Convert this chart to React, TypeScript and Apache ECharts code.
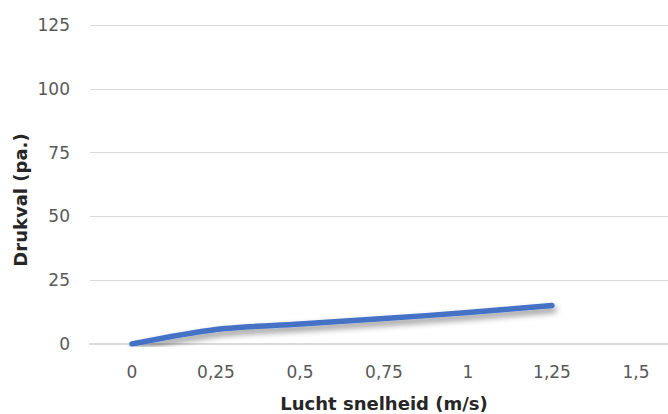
import React, { useEffect, useRef } from "react";
import * as echarts from "echarts";

const categories = ["0", "0,25", "0,5", "0,75", "1", "1,25", "1,5"];
const drukval = [0, 5.7, 7.8, 10, 12.3, 15.1, null];
const yTicks = { min: 0, max: 125, interval: 25 };
const xTitle = "Lucht snelheid (m/s)";
const yTitle = "Drukval (pa.)";

const FONT = "'DejaVu Sans', sans-serif";

export default function App() {
  const ref = useRef<HTMLDivElement>(null);
  useEffect(() => {
    if (!ref.current) return;
    const chart = echarts.init(ref.current, undefined, { renderer: "svg" });
    chart.setOption({
      animation: false,
      backgroundColor: "#ffffff",
      grid: {
        left: 90,
        top: 25,
        height: 319,
        width: 588,
        containLabel: false,
        outerBoundsMode: "none",
      },
      xAxis: {
        type: "category",
        data: categories,
        boundaryGap: true,
        axisLine: { show: true, lineStyle: { color: "#d9d9d9", width: 2 } },
        axisTick: { show: false },
        axisLabel: { color: "#595959", fontSize: 17, fontFamily: FONT, margin: 19 },
        name: xTitle,
        nameLocation: "middle",
        nameGap: 50,
        nameTextStyle: { color: "#262626", fontSize: 18, fontWeight: "bold", fontFamily: FONT },
      },
      yAxis: {
        type: "value",
        min: yTicks.min,
        max: yTicks.max,
        interval: yTicks.interval,
        axisLine: { show: false },
        axisTick: { show: false },
        axisLabel: { color: "#595959", fontSize: 17, fontFamily: FONT, margin: 20 },
        splitLine: { lineStyle: { color: "#d9d9d9", width: 1 } },
      },
      graphic: [
        {
          type: "text",
          x: 20,
          y: 200,
          rotation: Math.PI / 2,
          style: {
            text: yTitle,
            fill: "#262626",
            font: `bold 18px ${FONT}`,
            textAlign: "center",
            textVerticalAlign: "middle",
          },
        },
      ],
      series: [
        {
          type: "line",
          data: drukval,
          smooth: 0.3,
          showSymbol: false,
          symbol: "none",
          lineStyle: {
            color: "#4472C4",
            width: 5.5,
            cap: "round",
            join: "round",
            shadowColor: "rgba(0,0,0,0.45)",
            shadowBlur: 6,
            shadowOffsetX: 2,
            shadowOffsetY: 4,
          },
        },
      ],
    });
    return () => chart.dispose();
  }, []);
  return <div ref={ref} style={{ width: 668, height: 414, position: "absolute", left: 0, top: 0 }} />;
}
